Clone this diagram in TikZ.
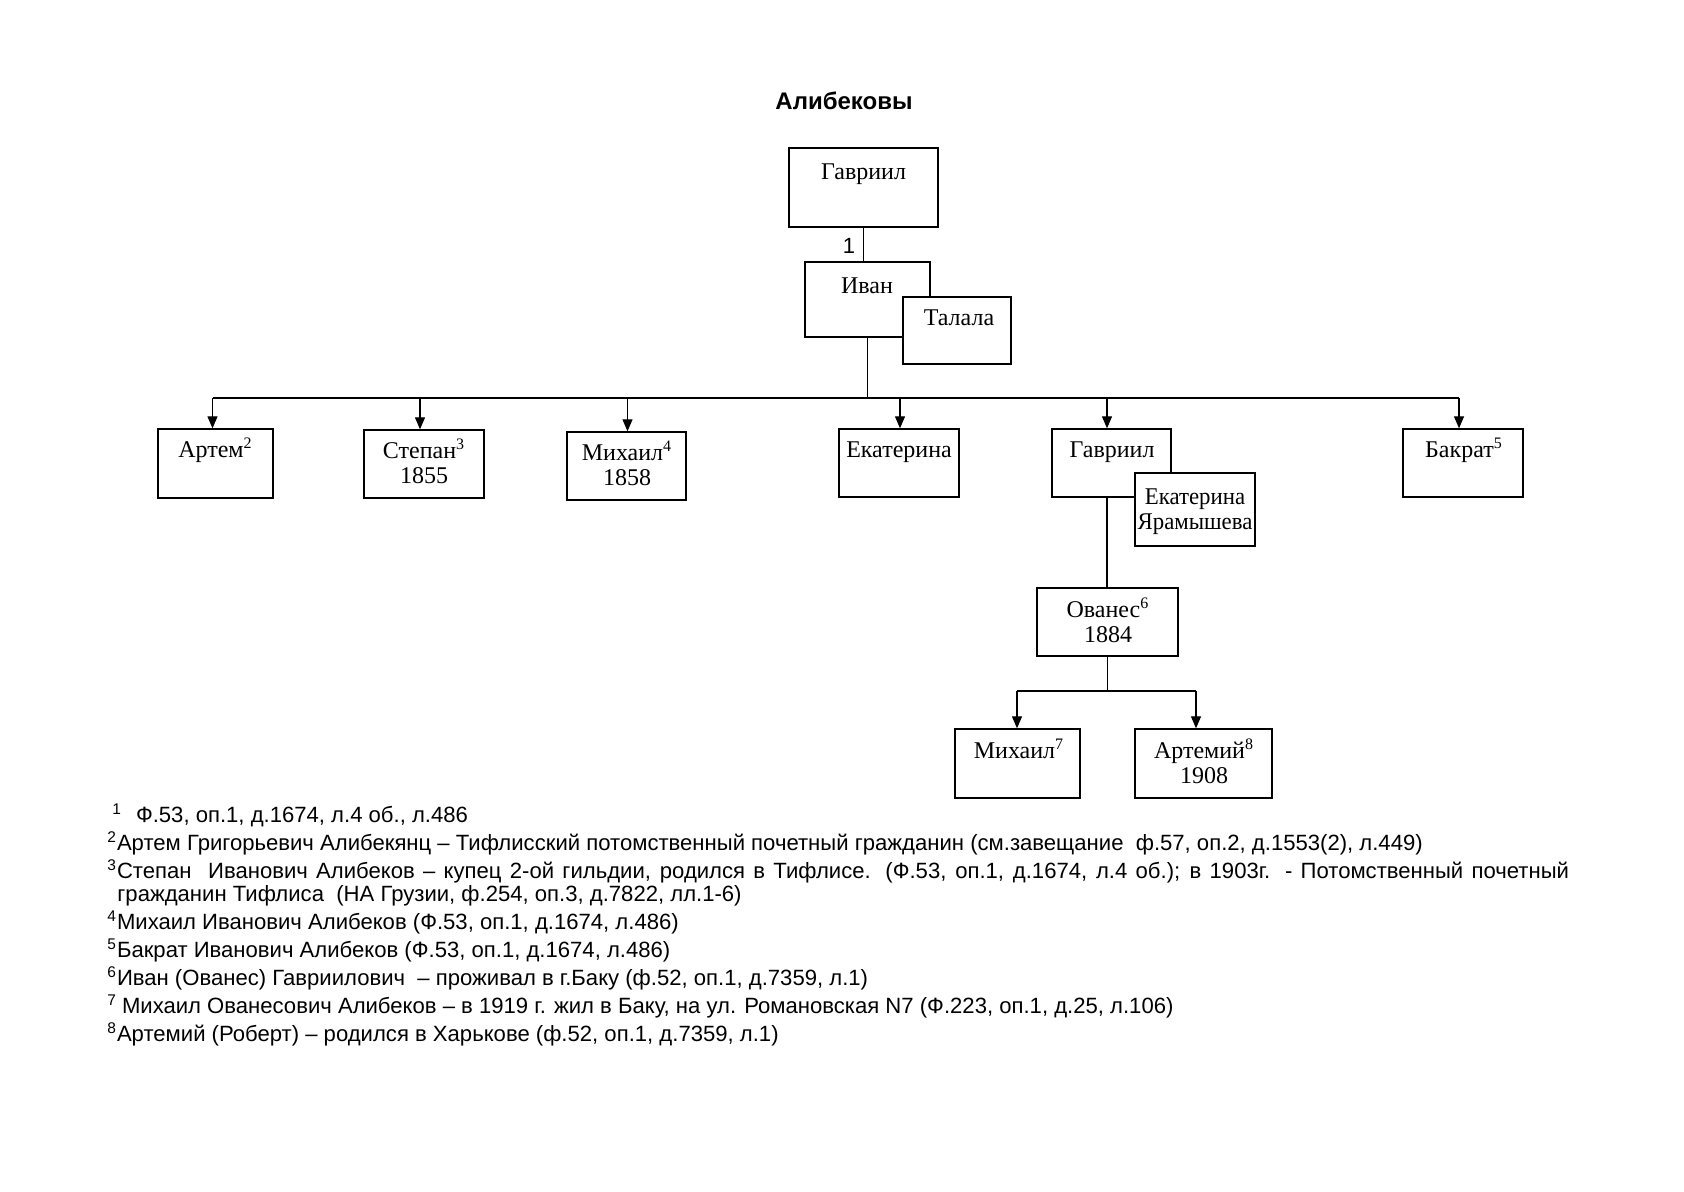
\documentclass[tikz,border=0pt]{standalone}
\usepackage{graphicx}
\usepackage{fontspec}
\setmainfont{Liberation Serif}
\newfontfamily\fnsans{Liberation Sans}
\usetikzlibrary{arrows.meta}
\begin{document}
\begin{tikzpicture}[x=0.5pt,y=-0.5pt,
  box/.style={draw, line width=0.7pt, fill=white, inner sep=0pt, rectangle},
  nm/.style={font=\fontsize{12}{14}\selectfont, anchor=base, inner sep=0pt},
  fn/.style={font=\fnsans\fontsize{11.05}{13}\selectfont, anchor=base west, inner sep=0pt},
  conn/.style={line width=0.6pt},
  arr/.style={conn, -{Triangle[length=6pt,width=5pt]}}]
\useasboundingbox[fill=white] (0,0) rectangle (1684,1191);

\node[font=\fnsans\bfseries\fontsize{12}{14}\selectfont, anchor=base, inner sep=0pt] (title) at (844,109) {Алибековы};

% boxes
\node[box, minimum width=74.5pt, minimum height=39.5pt] (g1) at (863.5,187.5) {};
\node[box, minimum width=62.5pt, minimum height=37.5pt] (ivan) at (867.5,299.5) {};
\node[box, minimum width=54pt, minimum height=33.5pt] (talala) at (957,330.5) {};
\node[box, minimum width=57.5pt, minimum height=34.5pt] (artem) at (215.5,463.5) {};
\node[box, minimum width=60pt, minimum height=34pt] (stepan) at (424,464) {};
\node[box, minimum width=59.5pt, minimum height=34pt] (mikh) at (626.5,466) {};
\node[box, minimum width=60pt, minimum height=34pt] (ekat) at (899,463) {};
\node[box, minimum width=59.5pt, minimum height=34pt] (g2) at (1111.5,463) {};
\node[box, minimum width=60pt, minimum height=36.5pt] (ekyar) at (1195,509.5) {};
\node[box, minimum width=60pt, minimum height=34pt] (bakrat) at (1463,463) {};
\node[box, minimum width=70.5pt, minimum height=34pt] (ovanes) at (1107.5,622) {};
\node[box, minimum width=62.5pt, minimum height=34.5pt] (mikh7) at (1017.5,763.5) {};
\node[box, minimum width=68.5pt, minimum height=34.5pt] (artemiy) at (1203.5,763.5) {};

% box texts
\node[nm] (tg1) at (863.5,179) {Гавриил};
\node[nm] (tivan) at (867,293) {Иван};
\node[nm] (ttalala) at (959,325) {Талала};
\node[nm] (tartem) at (215.5,457) {Артем\textsuperscript{2}};
\node[nm] (tstepan) at (424,458) {Степан\textsuperscript{3}};
\node[nm] (ystepan) at (424,483) {1855};
\node[nm] (tmikh) at (627,460) {Михаил\textsuperscript{4}};
\node[nm] (ymikh) at (627,485) {1858};
\node[nm] (tekat) at (899,457) {Екатерина};
\node[nm] (tg2) at (1112,457) {Гавриил};
\node[nm] (tekyar) at (1195,504) {\scalebox{0.95}[1]{Екатерина}};
\node[nm] (tekyar2) at (1195,529) {\scalebox{0.95}[1]{Ярамышева}};
\node[nm] (tbakrat) at (1464,457) {Бакрат\textsuperscript{5}};
\node[nm] (tovanes) at (1108,617) {Ованес\textsuperscript{6}};
\node[nm] (yovanes) at (1108,642) {1884};
\node[nm] (tmikh7) at (1019,758) {Михаил\textsuperscript{7}};
\node[nm] (tartemiy) at (1204,758) {Артемий\textsuperscript{8}};
\node[nm] (yartemiy) at (1204,783) {1908};

% connectors
\node[font=\fnsans\fontsize{11}{13}\selectfont, anchor=base, inner sep=0pt] (one) at (849,253) {1};
\draw[conn] (g1.south) -- (g1.south |- ivan.north);
\coordinate (b1) at (212.5,398);
\coordinate (b2) at (420,398);
\coordinate (b3) at (627.5,398);
\coordinate (b4) at (900,398);
\coordinate (b5) at (1107,398);
\coordinate (b6) at (1459,398);
\draw[conn] (ivan.south) -- (ivan.south |- b1);
\draw[conn] (b1) -- (b6);
\draw[arr] (b1) -- (b1 |- artem.north);
\draw[arr] (b2) -- (b2 |- stepan.north);
\draw[arr] (b3) -- (b3 |- mikh.north);
\draw[arr] (b4) -- (b4 |- ekat.north);
\draw[arr] (b5) -- (b5 |- g2.north);
\draw[arr] (b6) -- (b6 |- bakrat.north);
\draw[conn] (b5 |- g2.south) -- (b5 |- ovanes.north);
\coordinate (c1) at (1017,691);
\coordinate (c2) at (1196,691);
\draw[conn] (ovanes.south) -- (ovanes.south |- c1);
\draw[conn] (c1) -- (c2);
\draw[arr] (c1) -- (c1 |- mikh7.north);
\draw[arr] (c2) -- (c2 |- artemiy.north);

% footnotes
\node[fn] (f1) at (112,822) {\textsuperscript{1}\hspace{7pt}Ф.53, оп.1, д.1674, л.4 об., л.486};
\node[fn] (f2) at (107,850) {\textsuperscript{2}Артем Григорьевич Алибекянц – Тифлисский потомственный почетный гражданин (см.завещание\ \ ф.57, оп.2, д.1553(2), л.449)};
\node[fn] (f3) at (107,878) {\textsuperscript{3}\makebox[726pt][s]{Степан\ \ Иванович Алибеков – купец 2-ой гильдии, родился в Тифлисе. (Ф.53, оп.1, д.1674, л.4 об.); в 1903г. - Потомственный почетный}};
\node[fn] (f3b) at (117,901) {гражданин Тифлиса\ \ (НА Грузии, ф.254, оп.3, д.7822, лл.1-6)};
\node[fn] (f4) at (107,929) {\textsuperscript{4}Михаил Иванович Алибеков (Ф.53, оп.1, д.1674, л.486)};
\node[fn] (f5) at (107,957) {\textsuperscript{5}Бакрат Иванович Алибеков (Ф.53, оп.1, д.1674, л.486)};
\node[fn] (f6) at (107,985) {\textsuperscript{6}Иван (Ованес) Гавриилович\ \ – проживал в г.Баку (ф.52, оп.1, д.7359, л.1)};
\node[fn] (f7) at (107,1013) {\textsuperscript{7}\hspace{2.5pt}Михаил Ованесович Алибеков – в 1919 г. жил в Баку, на ул. Романовская N7 (Ф.223, оп.1, д.25, л.106)};
\node[fn] (f8) at (107,1041) {\textsuperscript{8}Артемий (Роберт) – родился в Харькове (ф.52, оп.1, д.7359, л.1)};
\end{tikzpicture}
\end{document}
